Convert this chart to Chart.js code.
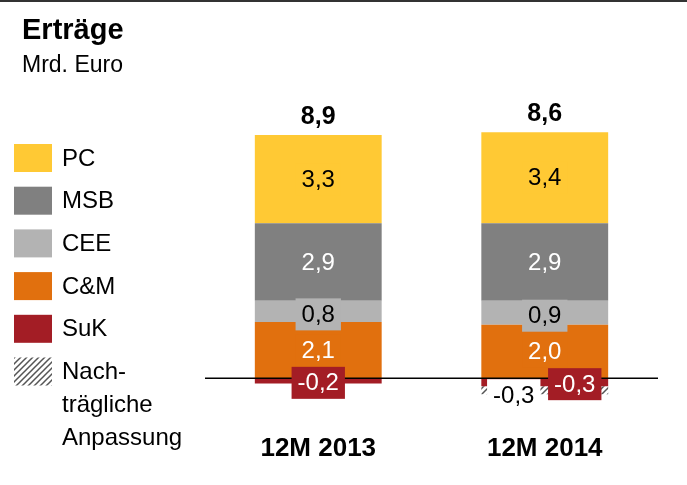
<!DOCTYPE html>
<html>
<head>
<meta charset="utf-8">
<script src="https://cdn.jsdelivr.net/npm/chart.js@4.4.1/dist/chart.umd.min.js"></script>
<style>
  html, body { margin: 0; padding: 0; background: #fff; }
  #wrap { position: relative; width: 687px; height: 485px; }
</style>
</head>
<body>
<div id="wrap"><canvas id="chart" width="687" height="485"></canvas></div>
<script>
// data (Mrd. Euro)
const categories = ['12M 2013', '12M 2014'];
const pcValues = [3.3, 3.4];
const msbValues = [2.9, 2.9];
const ceeValues = [0.8, 0.9];
const cmValues = [2.1, 2.0];
const sukValues = [-0.2, -0.3];
const adjValues = [null, -0.3];
const totals = [8.9, 8.6];

const FONT = '"Liberation Sans", Arial, sans-serif';

// hatch for "Nachträgliche Anpassung"
function makeHatch() {
  const c = document.createElement('canvas');
  c.width = 6; c.height = 6;
  const g = c.getContext('2d');
  g.fillStyle = '#fff';
  g.fillRect(0, 0, 6, 6);
  g.strokeStyle = '#555';
  g.lineWidth = 1.5;
  g.beginPath();
  g.moveTo(-1, 7); g.lineTo(7, -1);
  g.moveTo(-4, 4); g.lineTo(4, -4);
  g.moveTo(2, 10); g.lineTo(10, 2);
  g.stroke();
  return g.createPattern(c, 'repeat');
}
const hatch = makeHatch();

// legend entries, top to bottom
const legendItems = [
  { label: ['PC'], color: '#FFC934' },
  { label: ['MSB'], color: '#808080' },
  { label: ['CEE'], color: '#B3B3B3' },
  { label: ['C&M'], color: '#E1700E' },
  { label: ['SuK'], color: '#A31D25' },
  { label: ['Nach-', 'trägliche', 'Anpassung'], color: hatch }
];

function fmt(v) {
  return v.toFixed(1).replace('.', ',');
}

const ctx = document.getElementById('chart').getContext('2d');

const labelPlugin = {
  id: 'labels',
  afterDatasetsDraw(chart) {
    const c = chart.ctx;
    const area = chart.chartArea;
    const y = chart.scales.y;
    const zero = y.getPixelForValue(0);

    // zero line
    c.save();
    c.strokeStyle = '#000';
    c.lineWidth = 1.5;
    c.beginPath();
    c.moveTo(area.left, zero);
    c.lineTo(area.right, zero);
    c.stroke();

    c.font = '24px ' + FONT;
    c.textAlign = 'center';
    c.textBaseline = 'middle';
    chart.data.datasets.forEach((ds, di) => {
      const meta = chart.getDatasetMeta(di);
      meta.data.forEach((bar, i) => {
        const v = ds.data[i];
        if (v === null || v === undefined) return;
        const p = bar.getProps(['x', 'y', 'base']);
        let cx = p.x;
        let cy = (p.y + p.base) / 2;
        if (v < 0) {
          cy += 2;
          if (ds.key === 'suk' && adjValues[i] !== null) cx += 30;
          if (ds.key === 'adj') { cx -= 31; cy += 3; }
        }
        if (ds.key === 'cee') cy += 3;
        const txt = fmt(v);
        const w = c.measureText(txt).width + 12;
        c.fillStyle = ds.boxColor;
        c.fillRect(cx - w / 2, cy - 16, w, 32);
        c.fillStyle = ds.textColor;
        c.fillText(txt, cx, cy + 1);
      });
    });

    // totals above bars
    c.font = 'bold 25px ' + FONT;
    c.fillStyle = '#000';
    const topMeta = chart.getDatasetMeta(3);
    topMeta.data.forEach((bar, i) => {
      const p = bar.getProps(['x', 'y']);
      c.fillText(fmt(totals[i]), p.x, p.y - 18);
    });
    c.restore();
  },
  afterDraw(chart) {
    const c = chart.ctx;
    c.save();
    // top rule
    c.fillStyle = '#333';
    c.fillRect(0, 0, chart.width, 2);
    // title
    c.fillStyle = '#000';
    c.textAlign = 'left';
    c.textBaseline = 'middle';
    c.font = 'bold 29px ' + FONT;
    c.fillText('Erträge', 22, 31);
    c.font = '23px ' + FONT;
    c.fillText('Mrd. Euro', 22, 66);
    // legend
    c.font = '24px ' + FONT;
    legendItems.forEach((it, k) => {
      const yc = 158 + k * 42.7;
      c.fillStyle = it.color;
      c.fillRect(14, yc - 14, 38, 28);
      c.fillStyle = '#000';
      it.label.forEach((ln, j) => c.fillText(ln, 62, yc + 1 + j * 33));
    });
    c.restore();
  }
};

new Chart(ctx, {
  type: 'bar',
  data: {
    labels: categories,
    datasets: [
      { key: 'cm', label: 'C&M', data: cmValues, backgroundColor: '#E1700E', boxColor: '#E1700E', textColor: '#fff' },
      { key: 'cee', label: 'CEE', data: ceeValues, backgroundColor: '#B3B3B3', boxColor: '#B3B3B3', textColor: '#000' },
      { key: 'msb', label: 'MSB', data: msbValues, backgroundColor: '#808080', boxColor: '#808080', textColor: '#fff' },
      { key: 'pc', label: 'PC', data: pcValues, backgroundColor: '#FFC934', boxColor: '#FFC934', textColor: '#000' },
      { key: 'suk', label: 'SuK', data: sukValues, backgroundColor: '#A31D25', boxColor: '#A31D25', textColor: '#fff' },
      { key: 'adj', label: 'Nachträgliche Anpassung', data: adjValues, backgroundColor: hatch, boxColor: '#fff', textColor: '#000' }
    ]
  },
  options: {
    responsive: false,
    animation: false,
    devicePixelRatio: 1,
    categoryPercentage: 0.56,
    barPercentage: 1,
    layout: { padding: { left: 205, right: 29, top: 111, bottom: 18.2 } },
    plugins: {
      legend: { display: false },
      tooltip: { enabled: false },
      title: { display: false }
    },
    scales: {
      x: {
        stacked: true,
        grid: { display: false, drawTicks: false },
        border: { display: false },
        ticks: { color: '#000', padding: 2, font: { family: FONT, size: 26, weight: 'bold' } }
      },
      y: {
        stacked: true,
        display: false,
        min: -2,
        max: 10
      }
    }
  },
  plugins: [labelPlugin]
});
</script>
</body>
</html>
